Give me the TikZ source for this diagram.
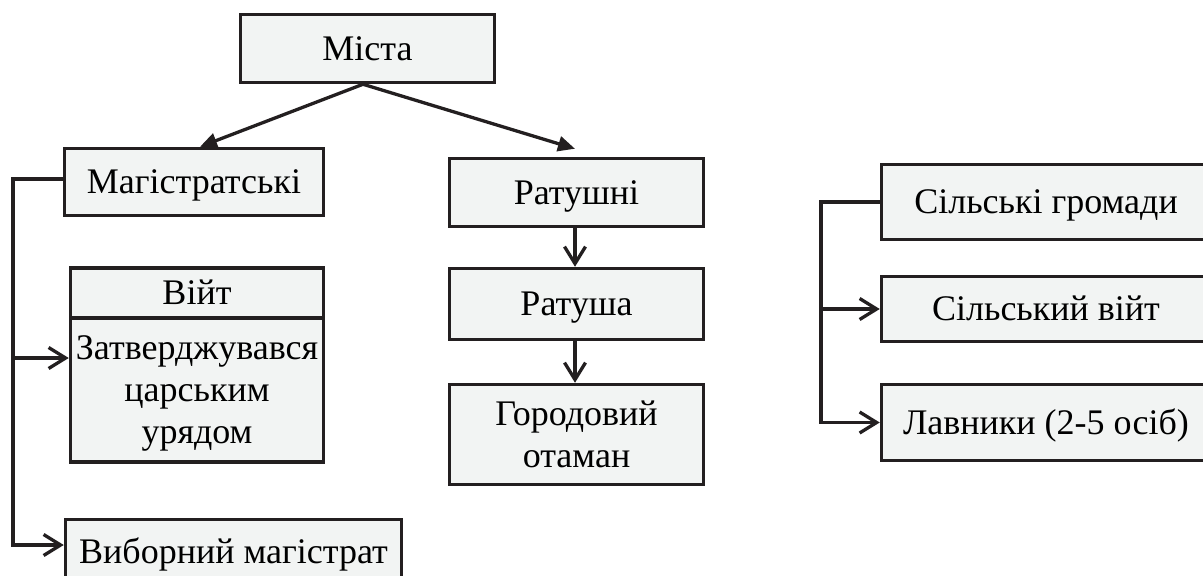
\documentclass[tikz,border=0pt]{standalone}
\usepackage{fontspec}
\setmainfont{Liberation Serif}
\usetikzlibrary{arrows.meta}
\definecolor{boxfill}{RGB}{242,244,243}
\definecolor{ink}{RGB}{35,31,32}
\begin{document}
\begin{tikzpicture}[x=1pt,y=-1pt,
  box/.style={draw=ink, line width=3.5pt, fill=boxfill, inner sep=0pt, text=black,
    font=\fontsize{36}{42}\selectfont, text height=23.5pt, text depth=0pt, align=center},
  link/.style={draw=ink, line width=3.3pt},
  solidtip/.style={-{Triangle[length=17pt,width=15pt]}},
  opentip/.style={-{Straight Barb[length=17pt,width=21pt,line width=3.3pt]}}]
\useasboundingbox (0,0) rectangle (1203,576);
\clip (0,0) rectangle (1203,576);
\fill[white] (0,0) rectangle (1203,576);

% boxes
\node[box, minimum width=254pt, minimum height=68pt] (mista) at (367.5,48.5) {Міста};
\node[box, minimum width=259pt, minimum height=67pt] (mag) at (194,182) {Магістратські};
\node[box, minimum width=254pt, minimum height=68pt] (rats) at (576.5,192.5) {Ратушні};
\node[box, minimum width=254pt, minimum height=71pt] (ratusha) at (576.5,304) {Ратуша};
\node[box, minimum width=254pt, minimum height=100pt, text height=65pt] (gor) at (576.5,434.5) {Городовий\\отаман};
\node[box, minimum width=253pt, minimum height=50pt] (vijt) at (197,293) {Війт};
\node[box, minimum width=253pt, minimum height=144pt, text height=107pt] (zatv) at (197,390) {Затверджувався\\царським\\урядом};
\node[box, minimum width=336pt, minimum height=65pt] (vyb) at (233.5,552) {Виборний магістрат};
\node[box, minimum width=329pt, minimum height=75pt] (sg) at (1046,202) {Сільські громади};
\node[box, minimum width=329pt, minimum height=65pt] (sv) at (1046,309) {Сільський війт};
\node[box, minimum width=329pt, minimum height=76pt] (lav) at (1046,422.5) {Лавники (2-5 осіб)};

% connectors from Міста
\draw[link, solidtip] ([xshift=-4.5pt]mista.south) -- ([xshift=6pt]mag.north);
\draw[link, solidtip] ([xshift=-4.5pt]mista.south) -- ([xshift=-1.5pt,yshift=8pt]rats.north);

% Ратушні chain
\coordinate (cx) at (575,0);
\draw[link, opentip] (cx |- rats.south) -- (cx |- ratusha.north);
\draw[link, opentip] (cx |- ratusha.south) -- (cx |- gor.north);

% left tree
\coordinate (lx) at (13,0);
\coordinate (zin) at ([yshift=32pt]zatv.west);
\coordinate (vin) at ([yshift=7pt]vyb.west);
\draw[link, opentip] ([yshift=3pt]mag.west) -| (lx |- vin) -- (vin);
\draw[link, opentip] (lx |- zin) -- (zin);

% right tree
\coordinate (rx) at (821,0);
\draw[link, opentip] (sg.west) -| (rx |- lav.west) -- (lav.west);
\draw[link, opentip] (rx |- sv.west) -- (sv.west);
\end{tikzpicture}
\end{document}
